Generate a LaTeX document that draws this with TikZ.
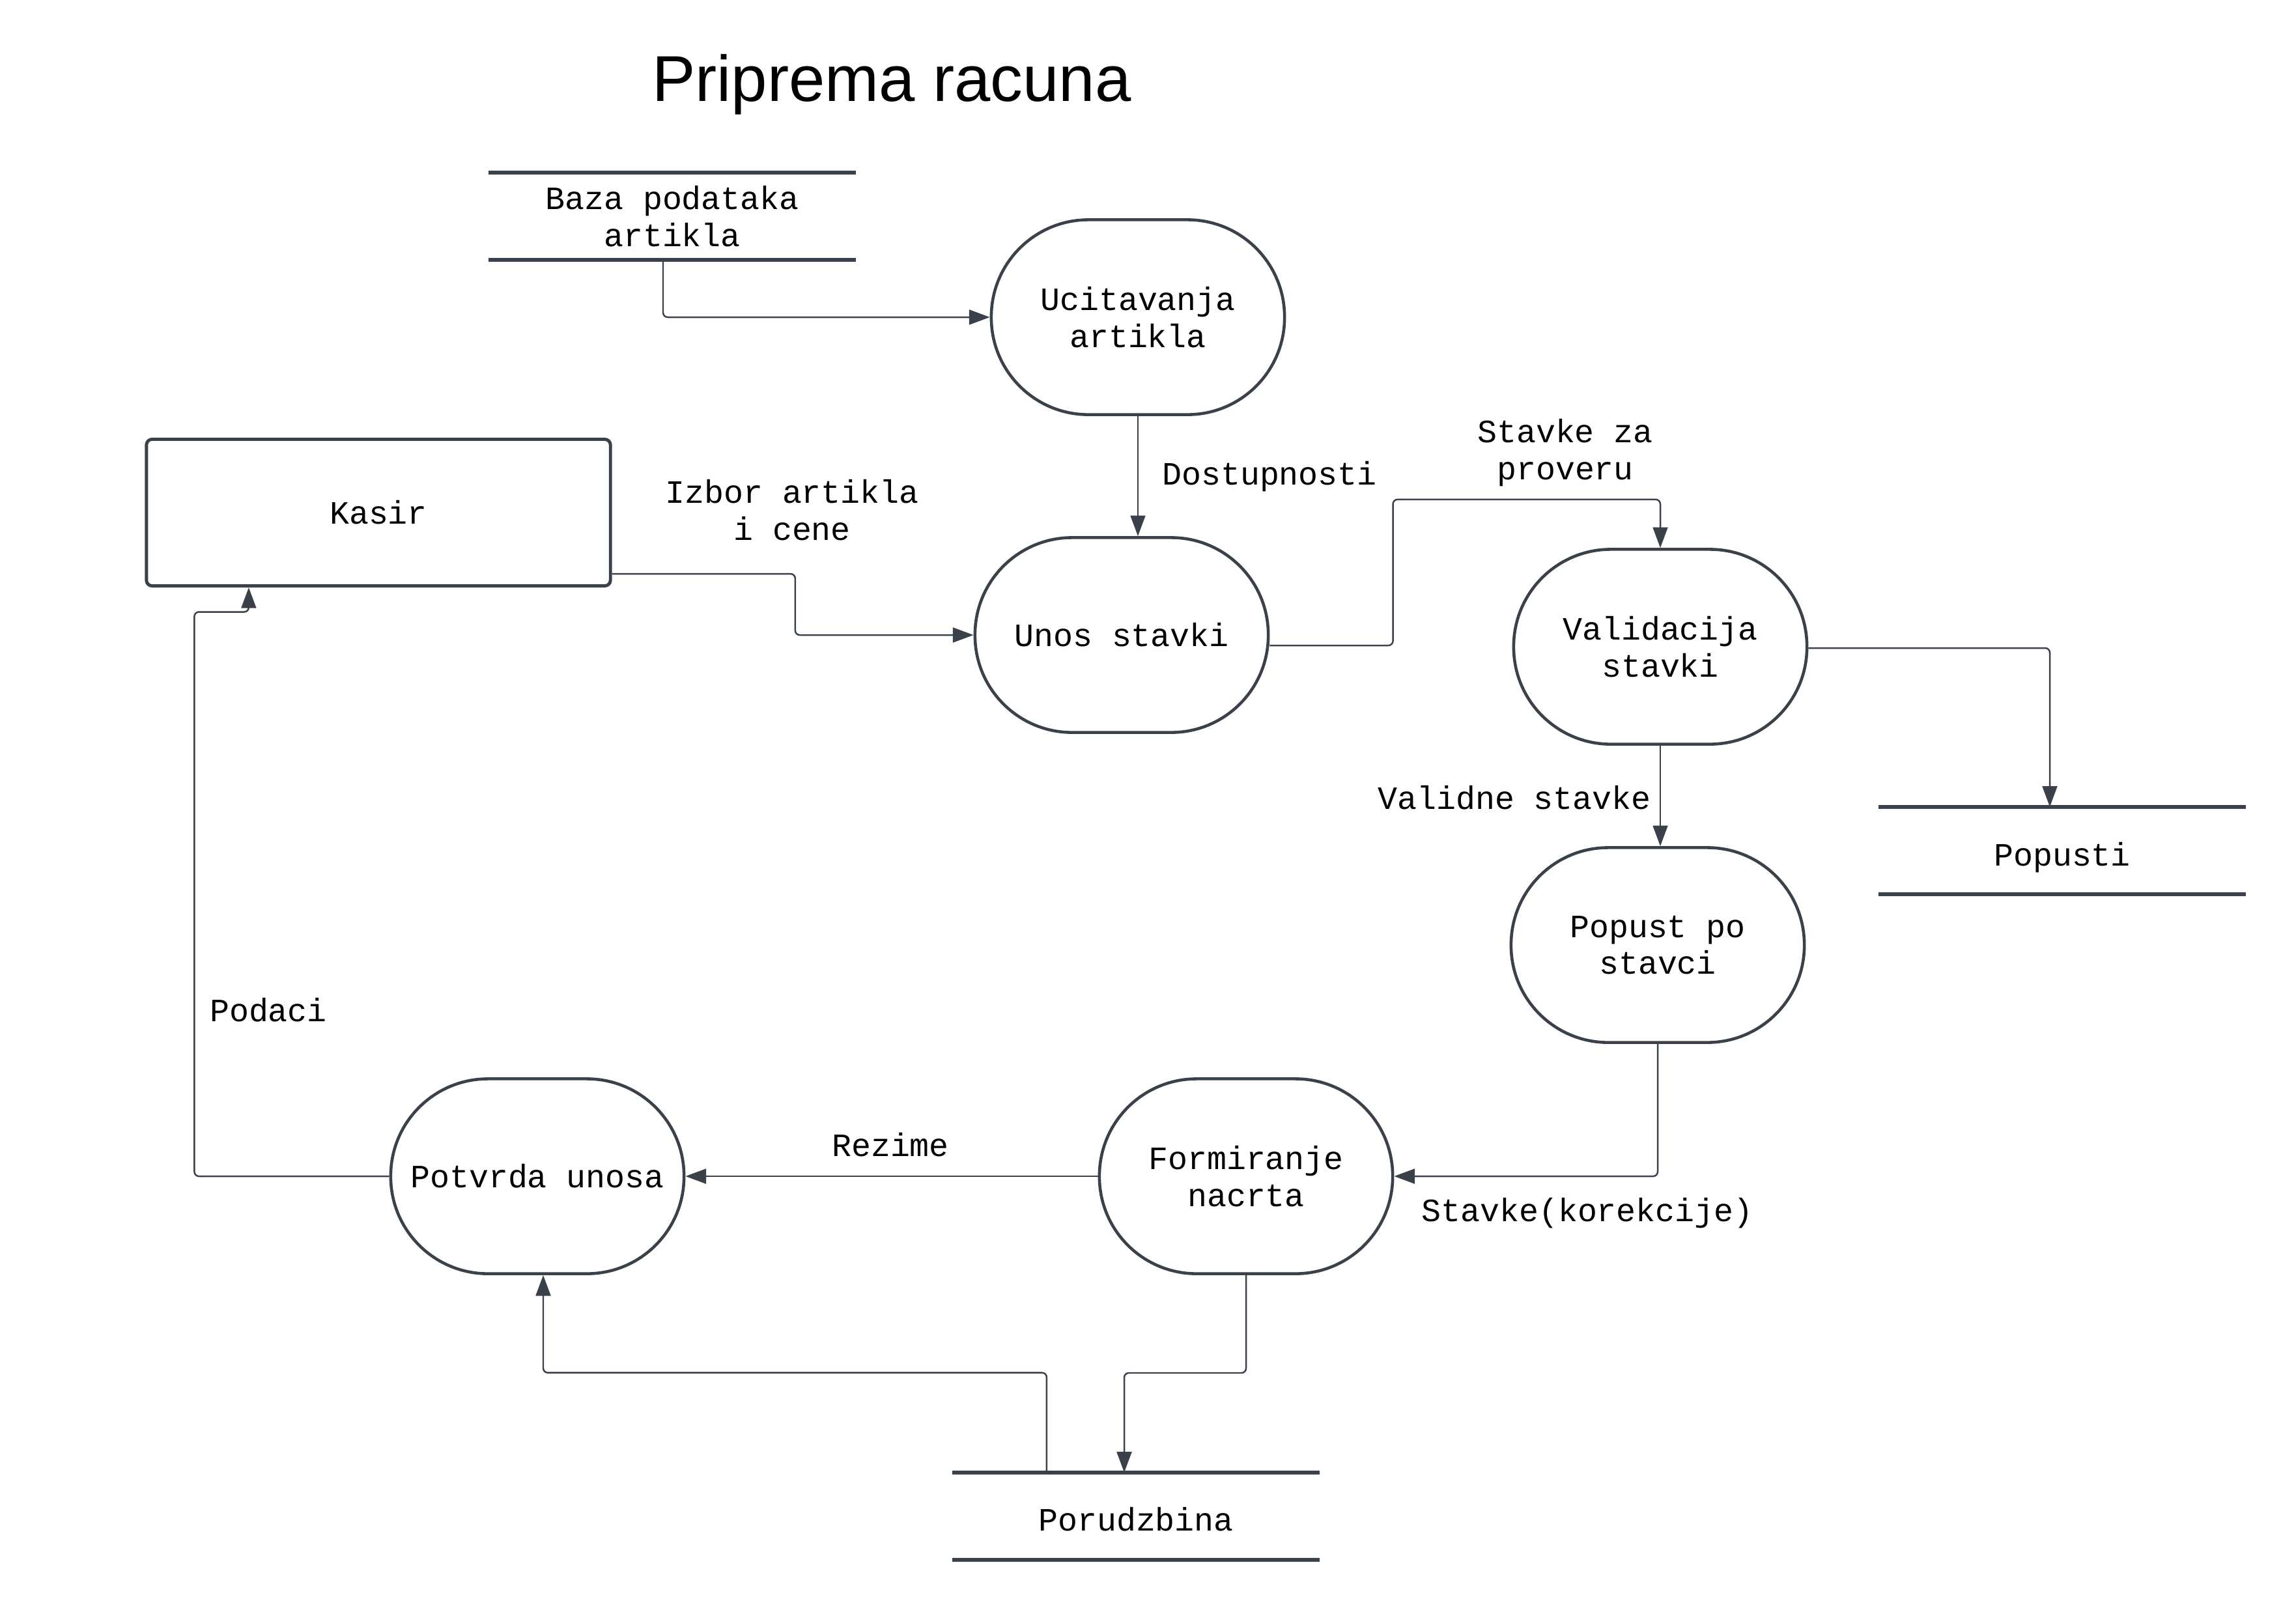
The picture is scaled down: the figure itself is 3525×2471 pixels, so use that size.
\documentclass[tikz,border=0pt]{standalone}
\usepackage{fontspec}
\setmainfont{Liberation Sans}
\newfontfamily\monofont{Liberation Mono}
\usetikzlibrary{arrows.meta}
\definecolor{linegray}{HTML}{3A414A}

\begin{document}
\begin{tikzpicture}[x=0.01cm,y=-0.01cm]
					\tikzstyle{process}=[rectangle,draw=linegray,line width=1.3pt,rounded corners=1.49cm,minimum width=4.5cm,minimum height=2.99cm,inner sep=0pt,align=center,font=\monofont\fontsize{14.2pt}{16pt}\selectfont]
					\tikzstyle{entity}=[rectangle,draw=linegray,line width=1.4pt,rounded corners=2.5pt,minimum width=7.12cm,minimum height=2.25cm,inner sep=0pt,align=center,font=\monofont\fontsize{14.2pt}{16pt}\selectfont]
					\tikzstyle{datastore}=[rectangle,minimum width=5.62cm,minimum height=1.33cm,inner sep=0pt,align=center,font=\monofont\fontsize{14.2pt}{16pt}\selectfont]
					\tikzstyle{storeline}=[draw=linegray,line width=1.8pt]
					\tikzstyle{flowlabel}=[inner sep=0pt,align=center,font=\monofont\fontsize{14.2pt}{16pt}\selectfont]
					\tikzstyle{dataflow}=[draw=linegray,line width=0.7pt,rounded corners=2pt,-{Triangle[length=9pt,width=6.5pt]}]
					\useasboundingbox (0,0) rectangle (3525,2471);
					\node[inner sep=0pt,font=\fontsize{28.3pt}{34pt}\selectfont] (title) at (1369,130) {Priprema racuna};
					\node[datastore] (baza) at (1032,332) {Baza podataka\\artikla};
					\node[datastore,text height=16.5pt] (popusti) at (3166,1306) {Popusti};
					\node[datastore,text height=13pt] (porud) at (1744,2328) {Porudzbina};
					\node[entity] (kasir) at (581,787) {Kasir};
					\node[process] (ucit) at (1747,487) {Ucitavanja\\artikla};
					\node[process] (unos) at (1722,975) {Unos stavki};
					\node[process] (valid) at (2549,993) {Validacija\\stavki};
					\node[process] (popst) at (2545,1451) {Popust po\\stavci};
					\node[process] (form) at (1913,1806) {Formiranje\\nacrta};
					\node[process] (potv) at (825,1806) {Potvrda unosa};
					\draw[storeline] (baza.north west) -- (baza.north east);
					\draw[storeline] (baza.south west) -- (baza.south east);
					\draw[storeline] (popusti.north west) -- (popusti.north east);
					\draw[storeline] (popusti.south west) -- (popusti.south east);
					\draw[storeline] (porud.north west) -- (porud.north east);
					\draw[storeline] (porud.south west) -- (porud.south east);
					\node[flowlabel] (l1) at (1216,783) {Izbor artikla\\i cene};
					\node[flowlabel] (l2) at (1949,732) {Dostupnosti};
					\node[flowlabel] (l3) at (2403,695) {Stavke za\\proveru};
					\node[flowlabel] (l4) at (2325,1225) {Validne stavke};
					\node[flowlabel] (l5) at (412,1551) {Podaci};
					\node[flowlabel] (l6) at (1367,1758) {Rezime};
					\node[flowlabel] (l7) at (2437,1863) {Stavke(korekcije)};
					\draw[dataflow] ([xshift=-0.14cm]baza.south) |- (ucit.west);
					\draw[dataflow] (ucit.south) -- (ucit.south |- unos.north);
					\draw[dataflow] ([yshift=-0.94cm]kasir.east) -- ++(2.81cm,0) |- (unos.west);
					\draw[dataflow] ([yshift=-0.16cm]unos.east) -- ++(1.89cm,0) -- ++(0,2.24cm) -| (valid.north);
					\draw[dataflow] ([yshift=-0.02cm]valid.east) -| ([xshift=-0.19cm]popusti.north);
					\draw[dataflow] (valid.south) -- (valid.south |- popst.north);
					\draw[dataflow] (popst.south) |- (form.east);
					\draw[dataflow] (form.west) -- (potv.east);
					\draw[dataflow] (potv.west) -- ++(-2.99cm,0) -- ++(0,8.66cm) -| ([xshift=-1.99cm]kasir.south);
					\draw[dataflow] (form.south) -- ++(0,-1.5cm) -| ([xshift=-0.18cm]porud.north);
					\draw[dataflow] ([xshift=-1.37cm]porud.north) -- ++(0,1.53cm) -| ([xshift=0.09cm]potv.south);
\end{tikzpicture}
\end{document}
